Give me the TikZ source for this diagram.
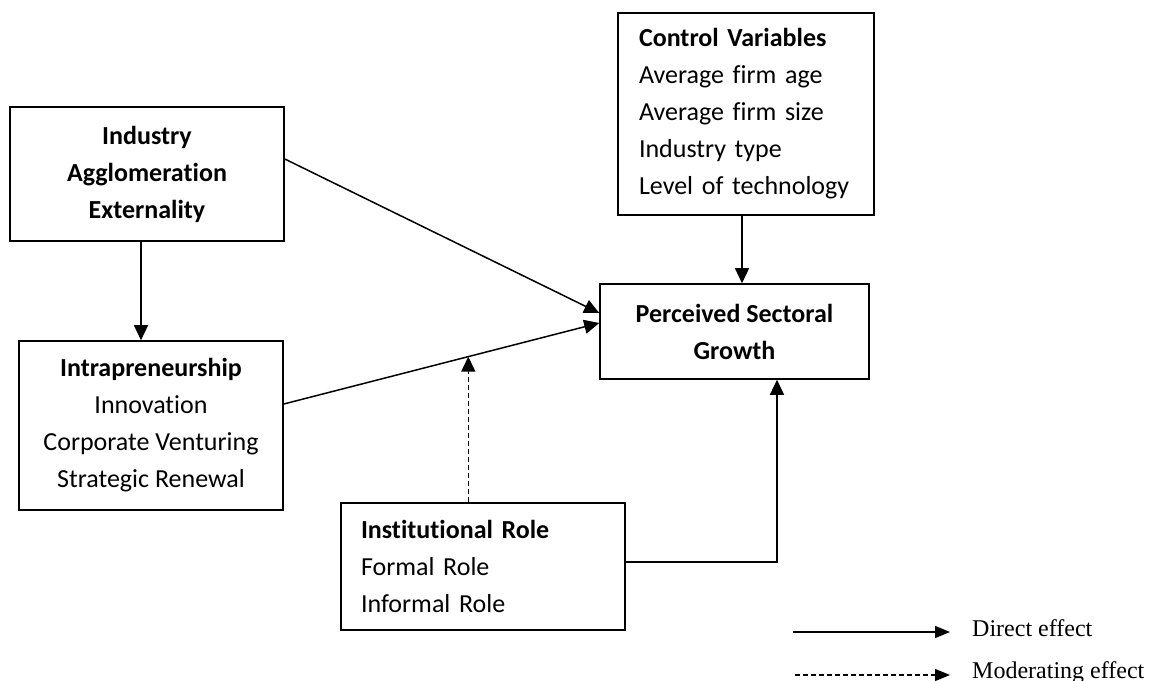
\documentclass[tikz,border=0pt]{standalone}
\usepackage{fontspec}
\setmainfont{Carlito}[Ligatures=NoCommon]
\newfontfamily\legendfont{Liberation Serif}
\usetikzlibrary{arrows.meta}

\begin{document}
\begin{tikzpicture}[x=1pt,y=1pt]
\tikzstyle{every node}+=[inner sep=0pt]
\tikzstyle{box}=[draw=black,line width=1.6pt,font=\fontsize{26}{37}\selectfont]
\tikzstyle{effect}=[black,line width=1.5pt,-{Triangle[length=15pt,width=14pt]}]
\tikzstyle{moderating}=[effect,dash pattern=on 5pt off 3pt]
\tikzstyle{legendtext}=[anchor=base west,font=\legendfont\fontsize{24}{28}\selectfont]
\useasboundingbox (0,0) rectangle (1150,-680);
\node [box,minimum width=274,minimum height=134,align=center] (ind) at (147,-174)
  {\textbf{Industry}\\\textbf{Agglomeration}\\\textbf{Externality}};
\node [box,minimum width=256,minimum height=202,align=left,text width=214,inner xsep=21] (ctrl) at (746,-114)
  {\textbf{Control Variables}\\Average firm age\\Average firm size\\Industry type\\Level of technology};
\node [box,minimum width=269,minimum height=95,align=center] (perc) at (734.5,-331.5)
  {\textbf{Perceived Sectoral}\\\textbf{Growth}};
\node [box,minimum width=264,minimum height=169,align=center] (intra) at (151,-425.5)
  {\textbf{Intrapreneurship}\\Innovation\\Corporate Venturing\\Strategic Renewal};
\node [box,minimum width=284,minimum height=127,align=left,text width=244,inner xsep=20] (inst) at (483,-566.5)
  {\textbf{Institutional Role}\\Formal Role\\Informal Role};
% paths
\draw [effect] ([yshift=15]ind.east) -- ([yshift=18.5]perc.west);
\draw [effect] ([yshift=21.5]intra.east) -- coordinate[pos=0.585] (mod) ([yshift=8.5]perc.west);
\draw [effect] ([xshift=-6]ind.south) -- ([xshift=-6]ind.south |- intra.north);
\draw [effect] ([xshift=-4]ctrl.south) -- ([xshift=-4]ctrl.south |- perc.north);
\draw [effect] ([yshift=4.5]inst.east) -| ([xshift=42.5]perc.south);
\draw [moderating] (mod |- inst.north) -- (mod);
% legend
\coordinate (d1) at (793,-632);
\coordinate (d2) at (950,-632);
\coordinate (m1) at (795,-675);
\coordinate (m2) at (950,-675);
\draw [effect,-{Triangle[length=15pt,width=12pt]}] (d1) -- (d2);
\draw [moderating,-{Triangle[length=15pt,width=12pt]}] (m1) -- (m2);
\node [legendtext] (direct) at (972,-636) {Direct effect};
\node [legendtext] (moder) at (972,-678) {Moderating effect};
\end{tikzpicture}
\end{document}
